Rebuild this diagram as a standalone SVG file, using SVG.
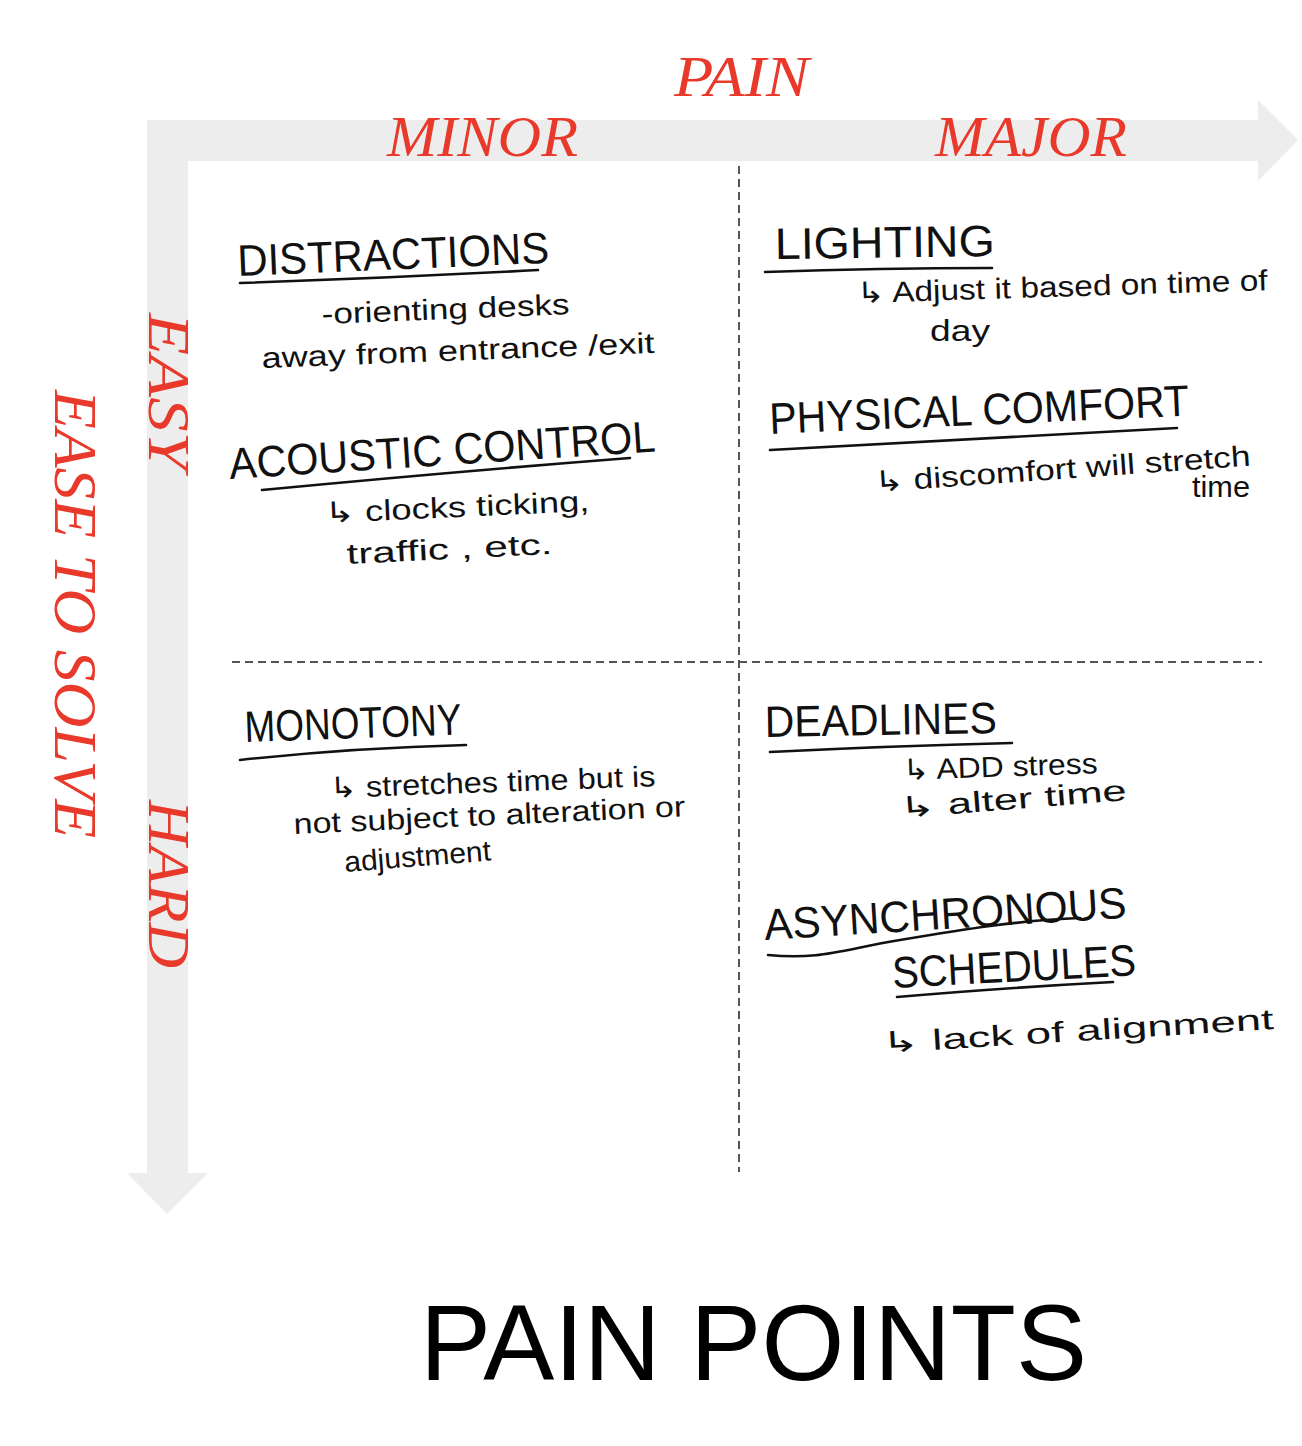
<svg xmlns="http://www.w3.org/2000/svg" width="1302" height="1446" viewBox="0 0 1302 1446">
  <style>
    .axis-label { font-family: "Liberation Serif", "Times New Roman", serif; font-style: italic; fill: #e8392b; }
    .head { font-family: "Liberation Sans", "DejaVu Sans", sans-serif; font-size: 44px; fill: #111; }
    .note { font-family: "Liberation Sans", "DejaVu Sans", sans-serif; font-size: 29px; fill: #111; }
    .rule { fill: none; stroke: #111; stroke-width: 2.6; stroke-linecap: round; }
    .divider { fill: none; stroke: #555; stroke-width: 2; stroke-dasharray: 8 5; }
    .title { font-family: "Liberation Sans", Arial, sans-serif; font-size: 108px; fill: #000; }
  </style>

  <rect width="1302" height="1446" fill="#ffffff"/>

  <!-- axes: one L-shaped band with an arrowhead at each end, plus the quadrant dividers -->
  <g id="axes">
    <path d="M147,120 H1258 V100 L1298,140 L1258,181 V161 H188 V1173 H208 L167,1214 L127,1173 H147 Z" fill="#ededed"/>
    <line class="divider" x1="739" y1="166" x2="739" y2="1172"/>
    <line class="divider" x1="232" y1="662" x2="1262" y2="662"/>
  </g>

  <!-- axis labels -->
  <g id="axis-labels">
    <text class="axis-label" x="674" y="96" font-size="56" textLength="135" lengthAdjust="spacingAndGlyphs">PAIN</text>
    <text class="axis-label" x="387" y="156" font-size="58" textLength="191" lengthAdjust="spacingAndGlyphs">MINOR</text>
    <text class="axis-label" x="935" y="156" font-size="58" textLength="192" lengthAdjust="spacingAndGlyphs">MAJOR</text>
    <text class="axis-label" x="55" y="390" font-size="62" textLength="448" lengthAdjust="spacingAndGlyphs" transform="rotate(90 55 390)">EASE TO SOLVE</text>
    <text class="axis-label" x="149" y="313" font-size="60" textLength="157" lengthAdjust="spacingAndGlyphs" transform="rotate(90 149 313)">EASY</text>
    <text class="axis-label" x="149" y="800" font-size="60" textLength="168" lengthAdjust="spacingAndGlyphs" transform="rotate(90 149 800)">HARD</text>
  </g>

  <!-- minor pain, easy to solve -->
  <g id="distractions">
    <text class="head" x="238" y="276" textLength="312" lengthAdjust="spacingAndGlyphs" transform="rotate(-2.4 238 276)">DISTRACTIONS</text>
    <path class="rule" d="M240,283 Q390,278 538,270"/>
    <text class="note" x="322" y="324" textLength="248" lengthAdjust="spacingAndGlyphs" transform="rotate(-2.3 322 324)">-orienting  desks</text>
    <text class="note" x="262" y="368" textLength="393" lengthAdjust="spacingAndGlyphs" transform="rotate(-2.2 262 368)">away  from  entrance /exit</text>
  </g>

  <g id="acoustic-control">
    <text class="head" x="230" y="479" font-size="47" textLength="427" lengthAdjust="spacingAndGlyphs" transform="rotate(-3.7 230 479)">ACOUSTIC CONTROL</text>
    <path class="rule" d="M262,490 Q450,472 630,458"/>
    <text class="note" x="325" y="523" textLength="265" lengthAdjust="spacingAndGlyphs" transform="rotate(-2.6 325 523)">↳ clocks  ticking,</text>
    <text class="note" x="347" y="564" textLength="206" lengthAdjust="spacingAndGlyphs" transform="rotate(-2.8 347 564)">traffic , etc.</text>
  </g>

  <!-- major pain, easy to solve -->
  <g id="lighting">
    <text class="head" x="775" y="259" textLength="220" lengthAdjust="spacingAndGlyphs" transform="rotate(-0.8 775 259)">LIGHTING</text>
    <path class="rule" d="M765,272 Q880,268 992,268"/>
    <text class="note" x="857" y="303" textLength="411" lengthAdjust="spacingAndGlyphs" transform="rotate(-1.8 857 303)">↳ Adjust  it  based  on  time  of</text>
    <text class="note" x="930" y="341" textLength="60" lengthAdjust="spacingAndGlyphs">day</text>
  </g>

  <g id="physical-comfort">
    <text class="head" x="770" y="434" textLength="420" lengthAdjust="spacingAndGlyphs" transform="rotate(-2.5 770 434)">PHYSICAL COMFORT</text>
    <path class="rule" d="M770,450 Q970,440 1177,428"/>
    <text class="note" x="875" y="492" textLength="377" lengthAdjust="spacingAndGlyphs" transform="rotate(-4 875 492)">↳ discomfort  will  stretch</text>
    <text class="note" x="1192" y="497" font-size="26" textLength="58" lengthAdjust="spacingAndGlyphs">time</text>
  </g>

  <!-- minor pain, hard to solve -->
  <g id="monotony">
    <text class="head" x="245" y="742" textLength="217" lengthAdjust="spacingAndGlyphs" transform="rotate(-2 245 742)">MONOTONY</text>
    <path class="rule" d="M240,760 Q350,748 466,745"/>
    <text class="note" x="330" y="798" textLength="326" lengthAdjust="spacingAndGlyphs" transform="rotate(-2.1 330 798)">↳ stretches  time  but  is</text>
    <text class="note" x="294" y="834" textLength="392" lengthAdjust="spacingAndGlyphs" transform="rotate(-2.6 294 834)">not  subject  to  alteration  or</text>
    <text class="note" x="345" y="872" textLength="147" lengthAdjust="spacingAndGlyphs" transform="rotate(-4.5 345 872)">adjustment</text>
  </g>

  <!-- major pain, hard to solve -->
  <g id="deadlines">
    <text class="head" x="765" y="737" textLength="232" lengthAdjust="spacingAndGlyphs" transform="rotate(-1 765 737)">DEADLINES</text>
    <path class="rule" d="M770,752 Q890,746 1012,743"/>
    <text class="note" x="903" y="780" textLength="195" lengthAdjust="spacingAndGlyphs" transform="rotate(-2 903 780)">↳ ADD  stress</text>
    <text class="note" x="900" y="818" textLength="228" lengthAdjust="spacingAndGlyphs" transform="rotate(-4.5 900 818)">↳ alter  time</text>
  </g>

  <g id="asynchronous-schedules">
    <text class="head" x="765" y="940" textLength="363" lengthAdjust="spacingAndGlyphs" transform="rotate(-3.5 765 940)">ASYNCHRONOUS</text>
    <path class="rule" d="M768,955 C820,960 840,950 900,940 C960,930 1020,920 1080,918"/>
    <text class="head" x="893" y="988" textLength="244" lengthAdjust="spacingAndGlyphs" transform="rotate(-3 893 988)">SCHEDULES</text>
    <path class="rule" d="M897,997 Q1000,988 1113,982"/>
    <text class="note" x="882" y="1053" font-size="33" textLength="393" lengthAdjust="spacingAndGlyphs" transform="rotate(-3.5 882 1053)">↳ lack  of  alignment</text>
  </g>

  <!-- chart title -->
  <text id="title" class="title" x="420" y="1380" textLength="667" lengthAdjust="spacingAndGlyphs">PAIN POINTS</text>
</svg>
